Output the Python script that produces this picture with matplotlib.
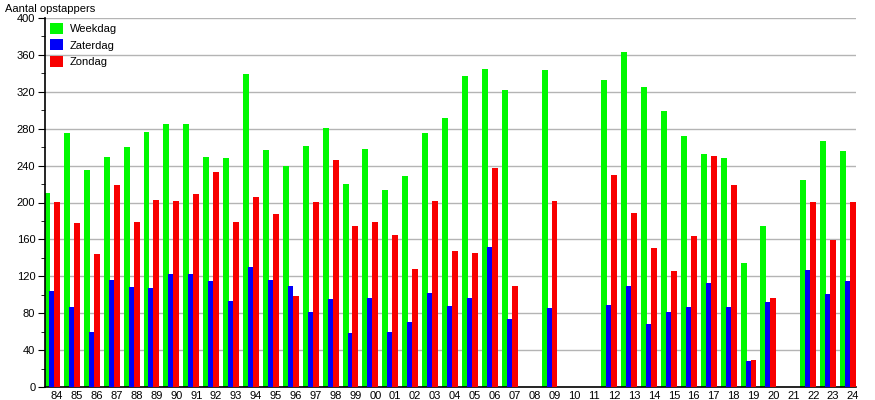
import numpy as np
import matplotlib
matplotlib.use("Agg")
import matplotlib.pyplot as plt
from matplotlib.ticker import MultipleLocator

plt.rcParams['font.family'] = ['Liberation Sans', 'DejaVu Sans']

years = ['84', '85', '86', '87', '88', '89', '90', '91', '92', '93', '94', '95', '96',
         '97', '98', '99', '00', '01', '02', '03', '04', '05', '06', '07', '08', '09',
         '10', '11', '12', '13', '14', '15', '16', '17', '18', '19', '20', '21', '22',
         '23', '24']
weekdag = [210, 275, 235, 249, 260, 276, 285, 285, 249, 248, 339, 257, 240,
           261, 281, 220, 258, 214, 229, 275, 292, 337, 345, 322, 0, 344,
           0, 0, 333, 363, 325, 299, 272, 253, 248, 134, 174, 0, 224,
           267, 256]
zaterdag = [104, 87, 60, 116, 108, 107, 123, 123, 115, 93, 130, 116, 109,
            81, 95, 58, 96, 60, 70, 102, 88, 96, 152, 74, 0, 86,
            0, 0, 89, 109, 68, 81, 87, 113, 87, 28, 92, 0, 127,
            101, 115]
zondag = [201, 178, 144, 219, 179, 203, 202, 209, 233, 179, 206, 188, 99,
          201, 246, 175, 179, 165, 128, 202, 147, 145, 237, 110, 0, 202,
          0, 0, 230, 189, 151, 126, 164, 250, 219, 29, 96, 0, 201,
          159, 201]

x = np.arange(len(years))

fig = plt.figure(figsize=(8.75, 4), dpi=100)
ax = fig.add_axes([45 / 875, 13 / 400, 811 / 875, 369 / 400])

ax.bar(x, weekdag, width=0.3, align='edge', color='#00f800', label='Weekdag', zorder=2)
ax.bar(x + 0.25, zaterdag, width=0.25, align='edge', color='#0000f8', label='Zaterdag', zorder=3)
ax.bar(x + 0.5, zondag, width=0.3, align='edge', color='#f80000', label='Zondag', zorder=4)

ax.set_xlim(0.05, 40.8)
ax.set_ylim(0, 400)
ax.set_xticks(x + 0.65)
ax.set_xticklabels(years, fontsize=8)
ax.tick_params(axis='x', length=0, pad=3)
ax.yaxis.set_major_locator(MultipleLocator(40))
ax.yaxis.set_minor_locator(MultipleLocator(20))
ax.tick_params(axis='y', which='major', length=5, labelsize=8, pad=2)
ax.tick_params(axis='y', which='minor', length=3)
ax.grid(axis='y', color='#b4b4b4', linewidth=1, zorder=1)
ax.set_axisbelow(True)

for side in ['top', 'right']:
    ax.spines[side].set_visible(False)
ax.spines['left'].set_linewidth(1.2)
ax.spines['bottom'].set_linewidth(1.2)

fig.text(5 / 875, 1 - 9 / 400, 'Aantal opstappers', fontsize=8, va='center', ha='left')

ax.legend(loc='upper left', bbox_to_anchor=(0.0, 1.0), frameon=False, fontsize=8,
          handlelength=1.2, handleheight=1.15, handletextpad=0.6, labelspacing=0.45,
          borderpad=0.35, borderaxespad=0.1)

fig.savefig('out.png', dpi=100)
